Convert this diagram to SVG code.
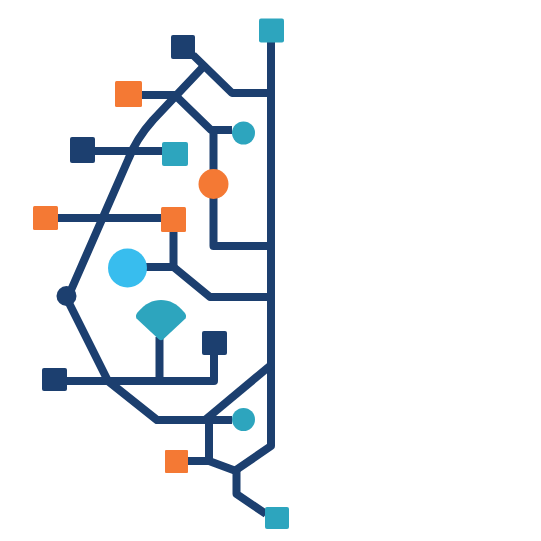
<svg xmlns="http://www.w3.org/2000/svg" width="541" height="541" viewBox="0 0 541 541">
<style>
.c{fill:none;stroke:#1c3f6f;stroke-width:8;stroke-linejoin:round;stroke-linecap:butt}
.navy{fill:#1c3f6f}
.orange{fill:#f47934}
.teal{fill:#2da5be}
.lblue{fill:#38bdee}
</style>
<rect width="541" height="541" fill="#ffffff"/>
<g id="connectors">
<path class="c" d="M271,42 V446 L236,470"/>
<path class="c" d="M193,55 L232,93 H271"/>
<path class="c" d="M204,66 L153,120 Q136,139 128,160 L68,297"/>
<path class="c" d="M142,95 H175 L211,130 H232"/>
<path class="c" d="M213.5,130 V170"/>
<path class="c" d="M213.5,198 V246 H271"/>
<path class="c" d="M95,151 H162"/>
<path class="c" d="M58,218 H161"/>
<path class="c" d="M173.5,232 V267"/>
<path class="c" d="M146,267 H173.5 L210,297 H271"/>
<path class="c" d="M66,297 L108,381 L157,420 H232"/>
<path class="c" d="M67,381 H214 V355"/>
<path class="c" d="M159.5,337 V381"/>
<path class="c" d="M271,365 L205,420"/>
<path class="c" d="M209,420 V461"/>
<path class="c" d="M188,461 H209 L236,471"/>
<path class="c" d="M236.5,470 V494 L266,514"/>
</g>
<g id="n1"><rect class="teal" x="259" y="18.5" width="25" height="24" rx="2"/></g>
<g id="n2"><rect class="navy" x="171" y="35" width="24" height="24" rx="2"/></g>
<g id="n3"><rect class="orange" x="115" y="81" width="27" height="26" rx="1.5"/></g>
<g id="n4"><circle class="teal" cx="243.5" cy="133" r="11.5"/></g>
<g id="n5"><circle class="orange" cx="213.5" cy="184" r="15"/></g>
<g id="n6"><rect class="navy" x="70" y="137" width="25" height="26" rx="2"/></g>
<g id="n7"><rect class="teal" x="162" y="142" width="26" height="24" rx="2"/></g>
<g id="n8"><rect class="orange" x="33" y="206" width="25" height="24" rx="1.5"/></g>
<g id="n9"><rect class="orange" x="161" y="207" width="25" height="25" rx="1.5"/></g>
<g id="n10"><circle class="lblue" cx="127.5" cy="268" r="19.5"/></g>
<g id="n11"><circle class="navy" cx="66.5" cy="296" r="10"/></g>
<g id="n12"><path class="teal" d="M136.5,318.5 Q135,315.5 137.5,312.5 C145,303.5 152.5,300 161,300 C169.5,300 177,303.5 184.5,312.5 Q187,315.5 185.5,318.5 L163,339.5 Q161,341 159,339.5 Z"/></g>
<g id="n13"><rect class="navy" x="202" y="331" width="25" height="24" rx="2"/></g>
<g id="n14"><rect class="navy" x="42" y="368" width="25" height="23" rx="2"/></g>
<g id="n15"><circle class="teal" cx="243.5" cy="419.5" r="11.5"/></g>
<g id="n16"><rect class="orange" x="165" y="450" width="23" height="23" rx="1"/></g>
<g id="n17"><rect class="teal" x="265" y="507" width="24" height="22" rx="2"/></g>
</svg>
